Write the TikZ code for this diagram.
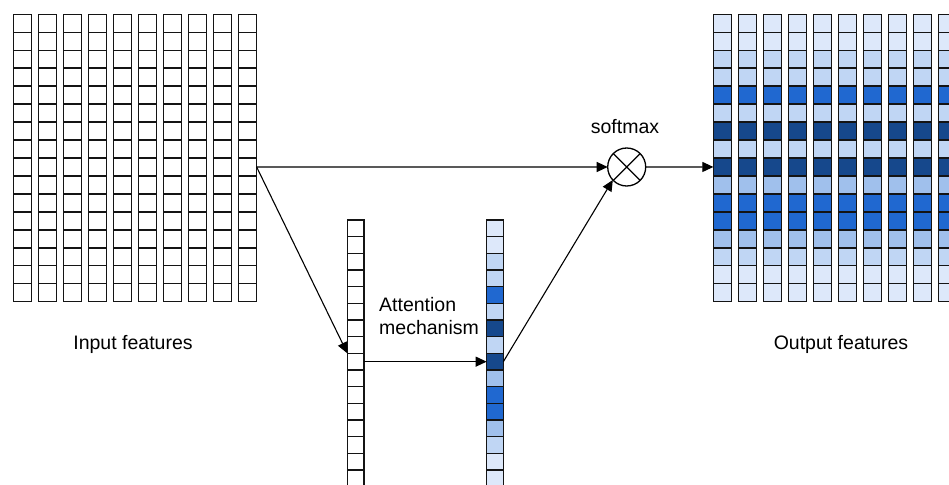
\documentclass[tikz,border=0pt]{standalone}
\usepackage{fontspec}
\setmainfont{Liberation Sans}
\usetikzlibrary{arrows.meta}
\definecolor{cvl}{RGB}{221,232,250}
\definecolor{cl}{RGB}{192,214,244}
\definecolor{cm}{RGB}{160,192,236}
\definecolor{cb}{RGB}{32,104,208}
\definecolor{cn}{RGB}{22,72,140}
\begin{document}
\begin{tikzpicture}[x=1pt,y=-1pt,
  cell/.style={draw=black!92, line width=1.45pt, inner sep=0pt, outer sep=0pt, minimum width=18.3pt, minimum height=17.96pt},
  vcell/.style={cell, minimum width=16.7pt, minimum height=16.67pt},
  arr/.style={-{Triangle[length=11pt,width=10pt]}, line width=1.1pt},
  lbl/.style={font=\fontsize{19.5}{23.5}\selectfont, inner sep=0pt}]
\useasboundingbox (0,0) rectangle (949,484);
\clip (0,0) rectangle (949,484);
% input grid
\foreach \i in {0,...,9}{
  \foreach \j in {0,...,15}{
    \node[cell] (in-\i-\j) at ({22.5+25*\i},{23.3+17.96*\j}) {};
  }
}
% output grid
\foreach \i in {0,...,9}{
  \foreach \j/\c in {0/cvl,1/cvl,2/cl,3/cl,4/cb,5/cl,6/cn,7/cl,8/cn,9/cm,10/cb,11/cb,12/cm,13/cl,14/cvl,15/cvl}{
    \node[cell, fill=\c] (out-\i-\j) at ({722.5+25*\i},{23.3+17.96*\j}) {};
  }
}
% middle columns
\foreach \j in {0,...,15}{
  \node[vcell] (mid-\j) at (355.7,{228.3+16.67*\j}) {};
}
\foreach \j/\c in {0/cvl,1/cvl,2/cl,3/cl,4/cb,5/cl,6/cn,7/cl,8/cn,9/cm,10/cb,11/cb,12/cm,13/cl,14/cvl,15/cvl}{
  \node[vcell, fill=\c] (att-\j) at (495,{228.3+16.67*\j}) {};
}
% softmax multiplier
\node[draw, circle, line width=1.3pt, minimum size=38pt, inner sep=0pt, outer sep=0pt] (sm) at (626.7,167) {};
\draw[line width=1.3pt] (sm.45) -- (sm.225) (sm.135) -- (sm.315);
% labels
\node[lbl] (lsm) at (625,127) {softmax};
\node[lbl] (lin) at (133,344) {Input features};
\node[lbl] (lout) at (841,344) {Output features};
\node[lbl, anchor=west, align=left] (latt) at (379,316) {Attention\\mechanism};
% connectors
\draw[arr] (in-9-8.east) -- (sm.west);
\draw[arr] (in-9-8.east) -- (mid-8.north west);
\draw[arr] (mid-8.east) -- (att-8.west);
\draw[arr] (att-8.east) -- (sm.223);
\draw[arr] (sm.east) -- (out-0-8.west);
\end{tikzpicture}
\end{document}
